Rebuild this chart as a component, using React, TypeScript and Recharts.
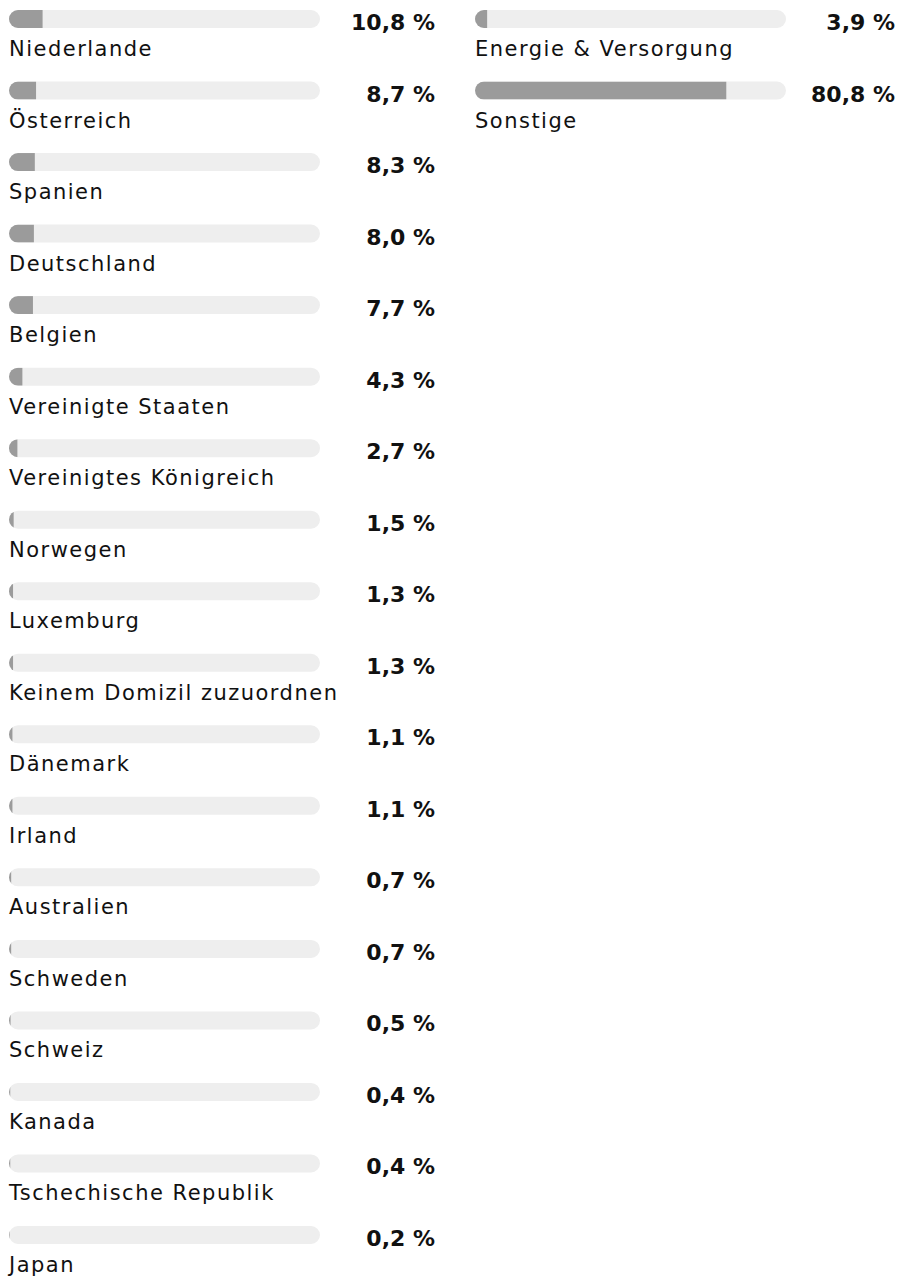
import React from 'react'
import { BarChart, Bar, XAxis, YAxis, LabelList } from 'recharts'

const countries = [
  'Niederlande', 'Österreich', 'Spanien', 'Deutschland', 'Belgien',
  'Vereinigte Staaten', 'Vereinigtes Königreich', 'Norwegen', 'Luxemburg',
  'Keinem Domizil zuzuordnen', 'Dänemark', 'Irland', 'Australien', 'Schweden',
  'Schweiz', 'Kanada', 'Tschechische Republik', 'Japan',
]
const countryShares = [10.8, 8.7, 8.3, 8.0, 7.7, 4.3, 2.7, 1.5, 1.3, 1.3, 1.1, 1.1, 0.7, 0.7, 0.5, 0.4, 0.4, 0.2]

const sectors = ['Energie & Versorgung', 'Sonstige']
const sectorShares = [3.9, 80.8]

const ROW = 71.53
const BAR = 18
const CHART_W = 440
const MARGIN = { top: 0, right: 120, bottom: 40, left: 9 }
const PLOT_W = CHART_W - MARGIN.left - MARGIN.right
const TRACK = '#eeeeee'
const FILL = '#9b9b9b'

const fmt = (v: number) => v.toFixed(1).replace('.', ',') + ' %'

function Column({ names, values, id, valueGap }: { names: string[]; values: number[]; id: string; valueGap: number }) {
  const data = names.map((name, i) => ({ name, value: values[i] }))
  const h = names.length * ROW + MARGIN.top + MARGIN.bottom

  const shape = (p: any) => {
    const cid = `clip-${id}-${p.index}`
    return (
      <g>
        <defs>
          <clipPath id={cid}>
            <rect x={p.x} y={p.y} width={PLOT_W} height={p.height} rx={p.height / 2} ry={p.height / 2} />
          </clipPath>
        </defs>
        <rect x={p.x} y={p.y} width={Math.max(p.width, 0)} height={p.height} fill={FILL} clipPath={`url(#${cid})`} />
      </g>
    )
  }

  const valueLabel = (p: any) => (
    <text
      x={p.x + PLOT_W + valueGap}
      y={p.y + p.height / 2 + 11}
      textAnchor="end"
      fontFamily="'DejaVu Sans', sans-serif"
      fontWeight={700}
      fontSize={22}
      fill="#111"
    >
      {fmt(p.value)}
    </text>
  )

  const nameLabel = (p: any) => (
    <text
      x={p.x}
      y={p.y + p.height + 28}
      textAnchor="start"
      fontFamily="'DejaVu Sans', sans-serif"
      fontSize={21}
      letterSpacing={1.5}
      fill="#111"
    >
      {p.value}
    </text>
  )

  return (
    <BarChart width={CHART_W} height={h} data={data} layout="vertical" margin={MARGIN}>
      <XAxis type="number" domain={[0, 100]} hide />
      <YAxis type="category" dataKey="name" hide />
      <Bar
        dataKey="value"
        barSize={BAR}
        background={{ fill: TRACK, radius: BAR / 2 }}
        shape={shape}
        isAnimationActive={false}
      >
        <LabelList dataKey="value" content={valueLabel} />
        <LabelList dataKey="name" content={nameLabel} />
      </Bar>
    </BarChart>
  )
}

export default function App() {
  return (
    <div style={{ position: 'absolute', left: 0, top: 0, width: 905, height: 1276, background: '#fff', overflow: 'hidden' }}>
      <div style={{ position: 'absolute', left: 0, top: -16.76 }}>
        <Column names={countries} values={countryShares} id="l" valueGap={115} />
      </div>
      <div style={{ position: 'absolute', left: 466, top: -16.76 }}>
        <Column names={sectors} values={sectorShares} id="r" valueGap={109} />
      </div>
    </div>
  )
}
